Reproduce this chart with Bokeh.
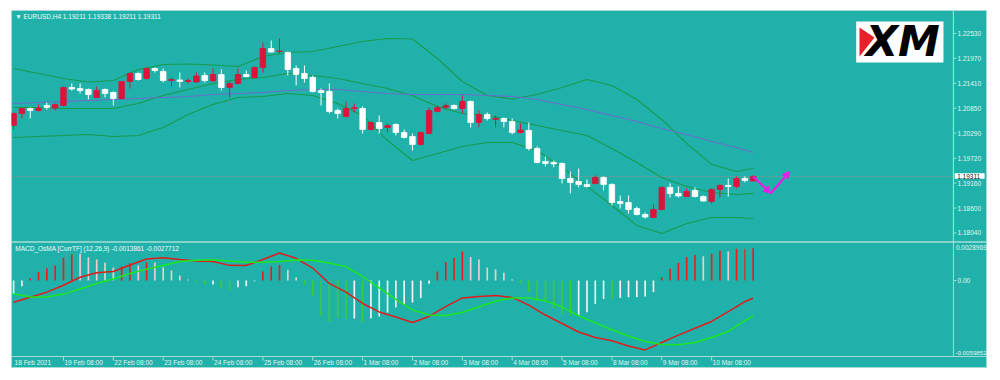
from bokeh.plotting import figure
from bokeh.models import Range1d, Span, Arrow, NormalHead
from bokeh.core.properties import value
from bokeh.embed import file_html
from bokeh.resources import INLINE

# ---------------- data ----------------
symbol_title = "\u25bc EURUSD,H4  1.19211 1.19338 1.19211 1.19311"
macd_title = "MACD_OsMA [CurrTF] (12,26,9) -0.0013861 -0.0027712"

opens = [1.20460, 1.20730, 1.20842, 1.20797, 1.20910, 1.20853, 1.20910, 1.21315, 1.21292, 1.21270,
         1.21090, 1.21270, 1.21202, 1.21067, 1.21450, 1.21630, 1.21517, 1.21742, 1.21675, 1.21472,
         1.21484, 1.21450, 1.21439, 1.21585, 1.21461, 1.21607, 1.21315, 1.21405, 1.21607, 1.21540,
         1.21765, 1.22192, 1.22125, 1.22102, 1.21742, 1.21630, 1.21540, 1.21247, 1.21225, 1.20797,
         1.20662, 1.20842, 1.20842, 1.20370, 1.20527, 1.20415, 1.20482, 1.20302, 1.20212, 1.20032,
         1.20280, 1.20775, 1.20865, 1.20910, 1.20842, 1.21000, 1.20527, 1.20707, 1.20595, 1.20617,
         1.20550, 1.20302, 1.20347, 1.19942, 1.19650, 1.19627, 1.19605, 1.19267, 1.19200, 1.19132,
         1.19155, 1.19290, 1.19132, 1.18748, 1.18725, 1.18590, 1.18455, 1.18388, 1.18568, 1.19065,
         1.18930, 1.18860, 1.18997, 1.18860, 1.18748, 1.19020, 1.19110, 1.19087, 1.19267, 1.19211]
highs = [1.20752, 1.20865, 1.20865, 1.20932, 1.20977, 1.20955, 1.21337, 1.21405, 1.21405, 1.21292,
         1.21337, 1.21292, 1.21225, 1.21460, 1.21652, 1.21652, 1.21765, 1.21765, 1.21742, 1.21540,
         1.21652, 1.21517, 1.21652, 1.21652, 1.21742, 1.21720, 1.21450, 1.21742, 1.21697, 1.21787,
         1.22327, 1.22372, 1.22418, 1.22125, 1.21810, 1.21810, 1.21585, 1.21292, 1.21405, 1.20842,
         1.21000, 1.20955, 1.20887, 1.20550, 1.20685, 1.20505, 1.20505, 1.20370, 1.20280, 1.20325,
         1.20865, 1.20910, 1.20955, 1.20932, 1.21135, 1.21022, 1.20797, 1.20752, 1.20685, 1.20640,
         1.20617, 1.20505, 1.20527, 1.19987, 1.19762, 1.19672, 1.19625, 1.19425, 1.19492, 1.19245,
         1.19335, 1.19312, 1.19155, 1.18885, 1.18885, 1.18635, 1.18500, 1.18680, 1.19087, 1.19155,
         1.19087, 1.19042, 1.19065, 1.18885, 1.19042, 1.19132, 1.19267, 1.19312, 1.19312, 1.19338]
lows = [1.20370, 1.20617, 1.20617, 1.20775, 1.20820, 1.20797, 1.20887, 1.21247, 1.21180, 1.21045,
        1.21090, 1.21090, 1.20910, 1.21045, 1.21292, 1.21472, 1.21495, 1.21652, 1.21427, 1.21337,
        1.21315, 1.21405, 1.21427, 1.21427, 1.21450, 1.21247, 1.21090, 1.21382, 1.21540, 1.21517,
        1.21652, 1.22102, 1.22080, 1.21585, 1.21360, 1.21427, 1.21202, 1.20910, 1.20730, 1.20617,
        1.20640, 1.20752, 1.20280, 1.20347, 1.20280, 1.20302, 1.20235, 1.20167, 1.19897, 1.20010,
        1.20270, 1.20752, 1.20820, 1.20820, 1.20730, 1.20415, 1.20415, 1.20572, 1.20415, 1.20415,
        1.20257, 1.20280, 1.19897, 1.19605, 1.19537, 1.19515, 1.19155, 1.18930, 1.19065, 1.19065,
        1.19132, 1.18997, 1.18658, 1.18590, 1.18478, 1.18433, 1.18365, 1.18378, 1.18545, 1.18838,
        1.18838, 1.18850, 1.18838, 1.18748, 1.18703, 1.18838, 1.18860, 1.19042, 1.19177, 1.19211]
closes = [1.20730, 1.20842, 1.20797, 1.20842, 1.20865, 1.20932, 1.21315, 1.21281, 1.21247, 1.21157,
          1.21247, 1.21180, 1.21067, 1.21450, 1.21630, 1.21495, 1.21742, 1.21697, 1.21472, 1.21495,
          1.21450, 1.21472, 1.21574, 1.21472, 1.21607, 1.21315, 1.21405, 1.21607, 1.21562, 1.21765,
          1.22192, 1.22113, 1.22136, 1.21720, 1.21607, 1.21517, 1.21225, 1.21202, 1.20775, 1.20730,
          1.20842, 1.20865, 1.20370, 1.20527, 1.20392, 1.20460, 1.20302, 1.20190, 1.20032, 1.20302,
          1.20797, 1.20865, 1.20910, 1.20842, 1.21000, 1.20527, 1.20707, 1.20617, 1.20617, 1.20550,
          1.20302, 1.20359, 1.19942, 1.19627, 1.19605, 1.19594, 1.19267, 1.19177, 1.19132, 1.19087,
          1.19290, 1.19132, 1.18725, 1.18703, 1.18568, 1.18455, 1.18399, 1.18568, 1.19065, 1.18930,
          1.18874, 1.18975, 1.18860, 1.18759, 1.19020, 1.19110, 1.19087, 1.19267, 1.19222, 1.19311]

band_idx = [0, 3, 6, 9, 12, 15, 18, 21, 24, 27, 30, 33, 36, 39, 42, 45, 48, 51, 54, 57,
            60, 63, 66, 69, 72, 75, 78, 81, 84, 87, 89]
bb_upper = [1.21742, 1.21630, 1.21517, 1.21439, 1.21472, 1.21720, 1.21832, 1.21843, 1.21821, 1.21787,
            1.22012, 1.22102, 1.22125, 1.22237, 1.22350, 1.22418, 1.22406, 1.21967, 1.21450, 1.21135,
            1.21056, 1.21157, 1.21315, 1.21495, 1.21360, 1.21045, 1.20595, 1.20055, 1.19582, 1.19425, 1.19492]
bb_middle = [1.20865, 1.20865, 1.20842, 1.20842, 1.20842, 1.20955, 1.21135, 1.21270, 1.21405, 1.21495,
             1.21540, 1.21630, 1.21585, 1.21517, 1.21405, 1.21292, 1.21135, 1.20887, 1.20730, 1.20685,
             1.20572, 1.20460, 1.20347, 1.20235, 1.19942, 1.19627, 1.19290, 1.19087, 1.18952, 1.18907, 1.18930]
bb_lower = [1.20190, 1.20212, 1.20235, 1.20257, 1.20212, 1.20235, 1.20415, 1.20707, 1.20932, 1.21090,
            1.21112, 1.21180, 1.21135, 1.20955, 1.20685, 1.20122, 1.19672, 1.19830, 1.19987, 1.20077,
            1.20077, 1.19897, 1.19515, 1.19087, 1.18658, 1.18208, 1.18028, 1.18253, 1.18388, 1.18388, 1.18365]
slow_ma = [1.20955, 1.20977, 1.21000, 1.21022, 1.21045, 1.21067, 1.21090, 1.21112, 1.21157, 1.21180,
           1.21202, 1.21247, 1.21270, 1.21270, 1.21225, 1.21180, 1.21157, 1.21157, 1.21157, 1.21135,
           1.21112, 1.21045, 1.20932, 1.20820, 1.20685, 1.20550, 1.20392, 1.20257, 1.20100, 1.19965, 1.19852]

osma = [-0.00104, -0.00044, 0.00018, 0.00065, 0.00096, 0.00117, 0.00177, 0.00203, 0.00208, 0.00182,
        0.00164, 0.00138, 0.00099, 0.00109, 0.00135, 0.00117, 0.00143, 0.00140, 0.00104, 0.00078,
        0.00039, 0.00008, -0.00012, -0.00034, -0.00031, -0.00060, -0.00072, -0.00052, -0.00044, -0.00005,
        0.00070, 0.00109, 0.00122, 0.00083, 0.00026, -0.00034, -0.00117, -0.00273, -0.00320, -0.00296,
        -0.00300, -0.00296, -0.00325, -0.00296, -0.00280, -0.00249, -0.00210, -0.00187, -0.00171, -0.00138,
        -0.00026, 0.00070, 0.00143, 0.00177, 0.00226, 0.00182, 0.00164, 0.00101, 0.00086, 0.00060,
        0.00008, -0.00021, -0.00091, -0.00156, -0.00169, -0.00220, -0.00259, -0.00273, -0.00267, -0.00247,
        -0.00182, -0.00143, -0.00144, -0.00135, -0.00130, -0.00129, -0.00125, -0.00091, 0.00026, 0.00091,
        0.00138, 0.00182, 0.00200, 0.00189, 0.00208, 0.00231, 0.00226, 0.00247, 0.00248, 0.00252]
osma_kind = ["w", "w", "r", "r", "r", "r", "r", "r", "p", "p",
             "p", "p", "p", "r", "r", "p", "r", "p", "p", "p",
             "p", "p", "g", "g", "w", "g", "g", "w", "w", "w",
             "r", "r", "r", "p", "p", "g", "g", "g", "g", "g",
             "g", "w", "g", "w", "w", "w", "w", "w", "w", "w",
             "w", "r", "r", "r", "r", "p", "p", "p", "p", "p",
             "p", "g", "g", "g", "g", "g", "g", "g", "w", "w",
             "w", "w", "g", "w", "w", "w", "w", "w", "r", "r",
             "r", "r", "r", "p", "r", "r", "p", "r", "d", "r"]

macd_idx = list(range(0, 89, 2)) + [89]
macd_line = [-0.00169, -0.00130, -0.00091, -0.00037, 0.00025, 0.00060, 0.00070, 0.00121, 0.00168, 0.00178,
             0.00164, 0.00152, 0.00148, 0.00118, 0.00117, 0.00164, 0.00214, 0.00173, 0.00097, -0.00023,
             -0.00090, -0.00179, -0.00245, -0.00284, -0.00327, -0.00280, -0.00203, -0.00136, -0.00125, -0.00117,
             -0.00132, -0.00192, -0.00269, -0.00335, -0.00401, -0.00444, -0.00469, -0.00510, -0.00541, -0.00483,
             -0.00426, -0.00372, -0.00319, -0.00242, -0.00164, -0.0013861]
signal_line = [-0.00104, -0.00129, -0.00129, -0.00106, -0.00066, -0.00023, 0.00012, 0.00055, 0.00088, 0.00117,
               0.00148, 0.00157, 0.00162, 0.00152, 0.00143, 0.00143, 0.00148, 0.00160, 0.00157, 0.00136,
               0.00108, 0.00030, -0.00058, -0.00147, -0.00229, -0.00269, -0.00273, -0.00249, -0.00204, -0.00161,
               -0.00136, -0.00137, -0.00159, -0.00205, -0.00275, -0.00330, -0.00384, -0.00432, -0.00475, -0.00499,
               -0.00501, -0.00483, -0.00444, -0.00397, -0.00312, -0.0027712]

price_ticks = [1.18040, 1.18600, 1.19160, 1.19720, 1.20290, 1.20850, 1.21410, 1.21970, 1.22530]
last_price = 1.19311
macd_ticks = [0.0]
macd_tick_labels = ["0.00"]
macd_max_label = "0.0028969"
macd_min_label = "-0.0059852"

time_tick_idx = [0, 6, 12, 18, 24, 30, 36, 42, 48, 54, 60, 66, 72, 78, 84]
time_labels = ["18 Feb 2021", "19 Feb 08:00", "22 Feb 08:00", "23 Feb 08:00", "24 Feb 08:00",
               "25 Feb 08:00", "26 Feb 08:00", "1 Mar 08:00", "2 Mar 08:00", "3 Mar 08:00",
               "4 Mar 08:00", "5 Mar 08:00", "8 Mar 08:00", "9 Mar 08:00", "10 Mar 08:00"]

# forecast zig-zag drawn on chart (bar index, price)
fc_x = [89.0, 91.1, 93.4]
fc_y = [1.19311, 1.18930, 1.19425]

# ---------------- styling / layout constants ----------------
BG = "#20b2aa"
FRAME = "#a6dcd6"
TXT = "#e4f2f0"
BULL = "#dc143c"
BEAR = "#ffffff"
BAND = "#179a4c"
SLOW = "#6b6dcc"
MAG = "#e81ee8"
KIND_COL = {"r": "#ee1c1c", "p": "#f2cccc", "g": "#3ccc32", "w": "#f4f4f4", "d": "#b8463e"}
FONT = value("Liberation Sans")
FS = value("6.5px")

X0, X1 = -0.253, 117.2          # frame spans whole teal area
AX = 113.1                      # position of the price-scale line (bar-index units)
PRICE_TOP, PRICE_BOT = 1.23048, 1.14988
MACD_TOP, MACD_BOT = 0.021036, -0.006856
PANEL_SPLIT = 1.17836           # price level of the separator between panels
MACD_FLOOR = -0.005921          # macd level of the bottom line of the indicator panel
TIME_Y = -0.006389
TICK_Y = -0.00624

p = figure(width=976, height=358, x_range=Range1d(X0, X1),
           y_range=Range1d(PRICE_BOT, PRICE_TOP),
           output_backend="svg", toolbar_location=None,
           x_axis_location=None, y_axis_location=None,
           min_border_left=0, min_border_right=0, min_border_top=0, min_border_bottom=0,
           background_fill_color=BG, border_fill_color=BG,
           outline_line_color=FRAME, outline_line_width=1)
p.margin = (10, 0, 0, 11)
p.grid.visible = False
p.extra_y_ranges = {"macd": Range1d(MACD_BOT, MACD_TOP)}

# panel separators, bid line, price-scale line
p.add_layout(Span(location=PANEL_SPLIT, dimension="width", line_color=FRAME, line_width=1.5))
p.add_layout(Span(location=MACD_FLOOR, dimension="width", line_color=FRAME, line_width=1,
                  y_range_name="macd"))
p.segment(x0=[X0], y0=[last_price], x1=[AX], y1=[last_price], line_color="#5c9f9b", line_width=1)
p.segment(x0=[AX], y0=[PRICE_TOP], x1=[AX], y1=[PANEL_SPLIT], line_color=FRAME, line_width=1)
p.segment(x0=[AX], y0=[MACD_FLOOR], x1=[AX], y1=[MACD_TOP], line_color=FRAME, line_width=1,
          y_range_name="macd")

# price scale ticks and labels
p.segment(x0=[AX] * len(price_ticks), y0=price_ticks, x1=[AX + 0.36] * len(price_ticks), y1=price_ticks,
          line_color=FRAME, line_width=1)
p.text(x=[AX + 0.5] * len(price_ticks), y=price_ticks, text=[f"{t:.5f}" for t in price_ticks],
       text_font=FONT, text_font_size=FS, text_color=TXT, text_baseline="middle", text_align="left")
p.segment(x0=[AX] * len(macd_ticks), y0=macd_ticks, x1=[AX + 0.36] * len(macd_ticks), y1=macd_ticks,
          line_color=FRAME, line_width=1, y_range_name="macd")
p.text(x=[AX + 0.5] * len(macd_ticks), y=macd_ticks, text=macd_tick_labels,
       text_font=FONT, text_font_size=FS, text_color=TXT, text_baseline="middle", text_align="left",
       y_range_name="macd")
p.text(x=[X1 - 0.1], y=[0.002594], text=[macd_max_label], text_font=FONT, text_font_size=FS,
       text_color=TXT, text_baseline="middle", text_align="right", y_range_name="macd")
p.text(x=[X1 - 0.1], y=[-0.005633], text=[macd_min_label], text_font=FONT, text_font_size=value("6.2px"),
       text_color=TXT, text_baseline="middle", text_align="right", y_range_name="macd")

# current price box
p.quad(left=[AX + 0.15], right=[AX + 3.75], bottom=[1.19259], top=[1.19385],
       fill_color="white", line_color=None)
p.text(x=[AX + 0.45], y=[last_price], text=[f"{last_price:.5f}"], text_font=FONT, text_font_size=FS,
       text_color="#1a1a1a", text_baseline="middle", text_align="left")

# bands and slow MA
p.line(band_idx, bb_upper, line_color=BAND, line_width=1.1)
p.line(band_idx, bb_middle, line_color=BAND, line_width=1.1)
p.line(band_idx, bb_lower, line_color=BAND, line_width=1.1)
p.line(band_idx, slow_ma, line_color=SLOW, line_width=1.1)

# candles
idx = list(range(len(opens)))
cols = [BULL if c > o else BEAR for o, c in zip(opens, closes)]
tops = [max(o, c) for o, c in zip(opens, closes)]
bots = [min(o, c) for o, c in zip(opens, closes)]
p.segment(x0=idx, y0=lows, x1=idx, y1=highs, line_color=cols, line_width=1)
p.vbar(x=idx, width=0.66, top=tops, bottom=bots, fill_color=cols, line_color=cols, line_width=0.8)

# forecast arrows
for k in range(len(fc_x) - 1):
    p.add_layout(Arrow(end=NormalHead(size=7, fill_color=MAG, line_color=MAG),
                       x_start=fc_x[k], y_start=fc_y[k], x_end=fc_x[k + 1], y_end=fc_y[k + 1],
                       line_color=MAG, line_width=2.2))

# MACD panel
p.vbar(x=idx, width=0.2, top=osma, bottom=0, fill_color=[KIND_COL[k] for k in osma_kind],
       line_color=None, y_range_name="macd")
p.line(macd_idx, macd_line, line_color="#e01c1c", line_width=1.5, y_range_name="macd")
p.line(macd_idx, signal_line, line_color="#1ee61e", line_width=1.5, y_range_name="macd")

# titles
p.text(x=[0.2], y=[1.22924], text=[symbol_title], text_font=FONT, text_font_size=FS,
       text_color="#f2faf9", text_baseline="middle", text_align="left")
p.text(x=[0.2], y=[0.002516], text=[macd_title], text_font=FONT, text_font_size=FS,
       text_color="#f2faf9", text_baseline="middle", text_align="left", y_range_name="macd")

# time axis (strip below the MACD panel)
p.segment(x0=time_tick_idx[1:], y0=[MACD_FLOOR] * (len(time_tick_idx) - 1),
          x1=time_tick_idx[1:], y1=[TICK_Y] * (len(time_tick_idx) - 1),
          line_color=FRAME, line_width=1, y_range_name="macd")
p.text(x=time_tick_idx, y=[TIME_Y] * len(time_tick_idx), text=time_labels,
       text_font=FONT, text_font_size=FS, text_color=TXT, text_baseline="middle",
       text_align="left", x_offset=1, y_range_name="macd")

# XM logo
p.quad(left=[101.4], right=[111.9], bottom=[1.21877], top=[1.22800],
       fill_color="white", line_color=None)
p.patch(x=[101.8, 103.6, 101.8], y=[1.22665, 1.22440, 1.22012], fill_color="#e8202a", line_color=None)
p.text(x=[107.0], y=[1.22339], text=["XM"], text_font=value("DejaVu Sans"),
       text_font_style="bold italic", text_font_size=value("42px"), text_color="black",
       text_align="center", text_baseline="middle")

open("out.html", "w").write(file_html(p, INLINE))
